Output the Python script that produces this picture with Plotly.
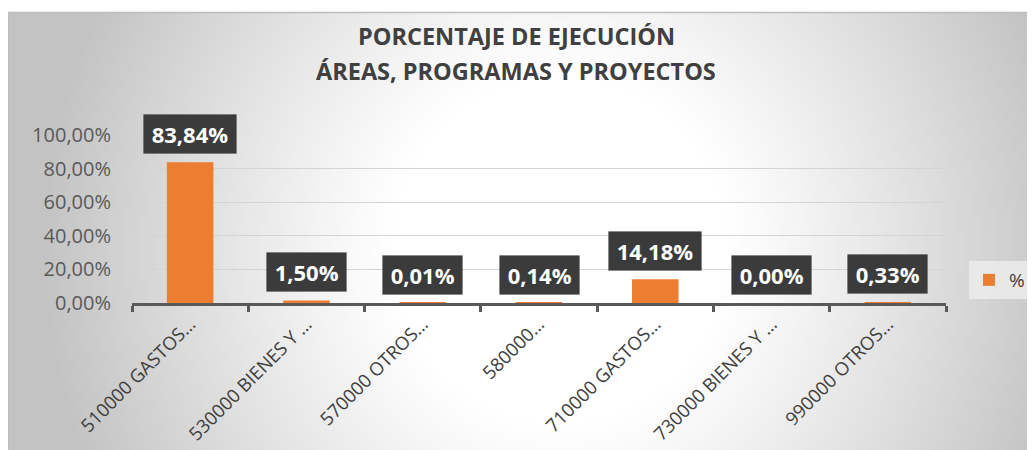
import base64
import struct
import zlib

import plotly.graph_objects as go

# ---------------- data ----------------
categories = [
    "510000 GASTOS…",
    "530000 BIENES Y …",
    "570000 OTROS…",
    "580000…",
    "710000 GASTOS…",
    "730000 BIENES Y …",
    "990000 OTROS…",
]
values_pct = [83.84, 1.50, 0.01, 0.14, 14.18, 0.00, 0.33]
series_name = "%"
title_line1 = "PORCENTAJE DE EJECUCIÓN"
title_line2 = "ÁREAS, PROGRAMAS Y PROYECTOS"
y_tick_values = [0, 20, 40, 60, 80, 100]
y_tick_labels = ["0,00%", "20,00%", "40,00%", "60,00%", "80,00%", "100,00%"]

# ---------------- layout geometry ----------------
# page body has an 8px margin; target coordinates below are screenshot pixels
OFF = 8
W, H = 1035 - OFF, 450 - OFF
SL, SR, ST, SB = 132, 946, 135, 303  # plot area in screenshot pixels
PL, PR, PT, PB = SL - OFF, SR - OFF, ST - OFF, SB - OFF


def px_to_paper_x(sx):
    return (sx - OFF - PL) / (PR - PL)


def px_to_paper_y(sy):
    return (PB - (sy - OFF)) / (PB - PT)


# ---------------- background gradient image ----------------
def gradient_png(w, h, x0, y0, x1, y1):
    cx, cy, rx, ry, r0 = 560.0, 250.0, 520.0, 540.0, 0.32
    raw = bytearray()
    for j in range(h):
        raw.append(0)
        py = y0 + (j + 0.5) * (y1 - y0) / h
        for i in range(w):
            px = x0 + (i + 0.5) * (x1 - x0) / w
            r = (((px - cx) / rx) ** 2 + ((py - cy) / ry) ** 2) ** 0.5
            t = min(max((r - r0) / (1 - r0), 0.0), 1.0)
            v = int(round(255 - 60 * (t ** 1.1)))
            raw.append(v)

    def chunk(tag, data):
        c = struct.pack(">I", len(data)) + tag + data
        return c + struct.pack(">I", zlib.crc32(tag + data) & 0xFFFFFFFF)

    png = b"\x89PNG\r\n\x1a\n"
    png += chunk(b"IHDR", struct.pack(">IIBBBBB", w, h, 8, 0, 0, 0, 0))
    png += chunk(b"IDAT", zlib.compress(bytes(raw), 9))
    png += chunk(b"IEND", b"")
    return "data:image/png;base64," + base64.b64encode(png).decode()


BX0, BY0, BX1, BY1 = 8, 12, 1040, 455  # screenshot pixels
bg_src = gradient_png(258, 111, BX0, BY0, BX1, BY1)

# ---------------- figure ----------------
fig = go.Figure()
fig.add_trace(
    go.Bar(
        x=categories,
        y=values_pct,
        name=series_name,
        marker=dict(color="#ED7D31", line=dict(width=0)),
        width=0.4,
        showlegend=True,
    )
)

annotations = []
for line, ypx in ((title_line1, 36), (title_line2, 71)):
    annotations.append(dict(
        text="<b>" + line + "</b>", xref="paper", yref="paper",
        x=px_to_paper_x(516), y=px_to_paper_y(ypx), xanchor="center", yanchor="middle",
        showarrow=False, font=dict(family="Open Sans", size=23.5, color="#404040"),
    ))

labels = [f"{v:.2f}%".replace(".", ",") for v in values_pct]
for cat, v, lab in zip(categories, values_pct, labels):
    annotations.append(dict(
        x=cat, y=v, xref="x", yref="y", text="<b>\u2009" + lab + "\u2009</b>",
        showarrow=False, xanchor="center", yanchor="bottom",
        yshift=8,
        font=dict(family="Open Sans", size=22, color="#FFFFFF"),
        bgcolor="#3B3B3B", borderpad=4,
        bordercolor="rgba(0,0,0,0.12)", borderwidth=1,
    ))

fig.update_layout(
    width=W,
    height=H,
    margin=dict(l=PL, r=W - PR, t=PT, b=H - PB, pad=0, autoexpand=False),
    paper_bgcolor="#FFFFFF",
    plot_bgcolor="rgba(0,0,0,0)",
    separators=",.",
    font=dict(family="Open Sans", color="#404040"),
    images=[dict(
        source=bg_src, xref="paper", yref="paper",
        x=px_to_paper_x(BX0), y=px_to_paper_y(BY0),
        sizex=px_to_paper_x(BX1) - px_to_paper_x(BX0),
        sizey=px_to_paper_y(BY0) - px_to_paper_y(BY1),
        xanchor="left", yanchor="top", sizing="stretch", layer="below",
    )],
    shapes=[dict(
        type="rect", xref="paper", yref="paper",
        x0=px_to_paper_x(BX0 + 0.5), y0=px_to_paper_y(BY1),
        x1=px_to_paper_x(BX1), y1=px_to_paper_y(BY0 + 0.5),
        line=dict(color="#BDBDBD", width=1.5), fillcolor="rgba(0,0,0,0)",
        layer="below",
    )],
    annotations=annotations,
    legend=dict(
        x=px_to_paper_x(969), y=px_to_paper_y(280),
        xanchor="left", yanchor="middle",
        bgcolor="rgba(236,236,236,0.85)",
        font=dict(family="Open Sans", size=19, color="#404040"),
        itemwidth=30,
        borderwidth=0,
    ),
    xaxis=dict(
        type="category",
        tickangle=-45,
        tickfont=dict(family="Open Sans", size=18.5, color="#404040"),
        showline=True, linecolor="#595959", linewidth=3,
        ticks="outside", tickson="boundaries", ticklen=6, tickwidth=3,
        tickcolor="#595959",
        showgrid=False,
        automargin=False,
        fixedrange=True,
    ),
    yaxis=dict(
        range=[0, 100],
        tickmode="array",
        tickvals=y_tick_values,
        ticktext=y_tick_labels,
        tickfont=dict(family="Open Sans", size=20, color="#595959"),
        showgrid=True, gridcolor="#D4D4D4", gridwidth=1,
        zeroline=False, showline=False,
        ticklabelstandoff=20,
        automargin=False,
        fixedrange=True,
    ),
)

fig.write_html("out.html")
